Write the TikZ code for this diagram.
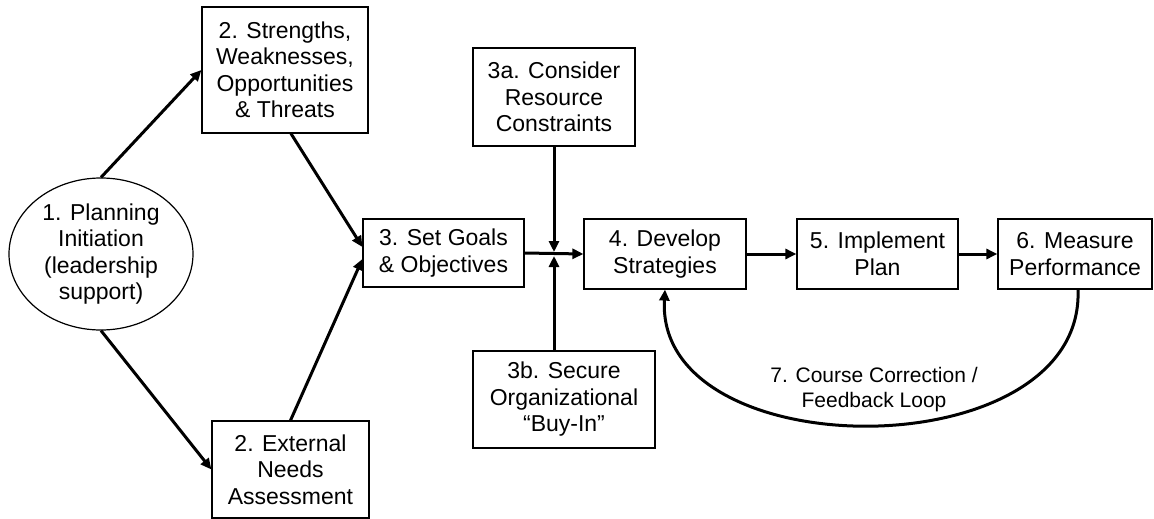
\documentclass[tikz,border=0pt]{standalone}
\usepackage{fontspec}
\setmainfont{Liberation Sans}
\usetikzlibrary{arrows.meta,shapes.geometric}
\begin{document}
\begin{tikzpicture}[x=1pt,y=-1pt,
  box/.style={draw=black,line width=1.2pt,rectangle,align=center,inner sep=0pt,
    font=\fontsize{23}{26.5}\selectfont},
  conn/.style={line width=3pt,-{Triangle[length=11pt,width=10pt]}},
  plain/.style={line width=3pt}]
\useasboundingbox (0,0) rectangle (1154,519);
\node[box,ellipse,minimum width=184pt,minimum height=152pt] (e) at (101,254) {1. Planning\\Initiation\\(leadership\\support)};
\node[box,minimum width=166pt,minimum height=126pt] (n2a) at (285,70) {2. Strengths,\\Weaknesses,\\Opportunities\\\& Threats};
\node[box,minimum width=157pt,minimum height=97pt] (n2b) at (290.5,469.5) {2. External\\Needs\\Assessment};
\node[box,minimum width=161pt,minimum height=68pt] (n3) at (443.5,253) {3. Set Goals\\\& Objectives};
\node[box,minimum width=162pt,minimum height=98pt] (n3a) at (554,97) {3a. Consider\\Resource\\Constraints};
\node[box,minimum width=182pt,minimum height=97pt] (n3b) at (564,399.5) {3b. Secure\\Organizational\\“Buy-In”};
\node[box,minimum width=162pt,minimum height=70pt] (n4) at (665,254) {4. Develop\\Strategies};
\node[box,minimum width=161pt,minimum height=70pt] (n5) at (877.5,254) {5. Implement\\Plan};
\node[box,minimum width=154pt,minimum height=70pt] (n6) at (1075,254) {6. Measure\\Performance};
\coordinate (j) at (554,254);
\draw[conn] (e.north) -- (n2a.west);
\draw[conn] (e.south) -- (n2b.west);
\draw[conn] ([xshift=6pt]n2a.south) -- ([yshift=6pt]n3.west);
\draw[conn] (n2b.north) -- ([yshift=-6pt]n3.west);
\draw[conn] (n3.east) -- (n4.west);
\draw[conn] (n3a.south) -- ([yshift=2pt]j);
\draw[conn] ([xshift=-10pt]n3b.north) -- ([yshift=-2pt]j);
\draw[conn] (n4.east) -- (n5.west);
\draw[conn] (n5.east) -- (n6.west);
\draw[conn] ([xshift=3pt]n6.south) .. controls (1085,470) and (655,470) .. (n4.south);
\node[align=center,inner sep=0pt,font=\fontsize{21}{25}\selectfont] (lbl) at (874,390) {7. Course Correction /\\Feedback Loop};
\end{tikzpicture}
\end{document}
